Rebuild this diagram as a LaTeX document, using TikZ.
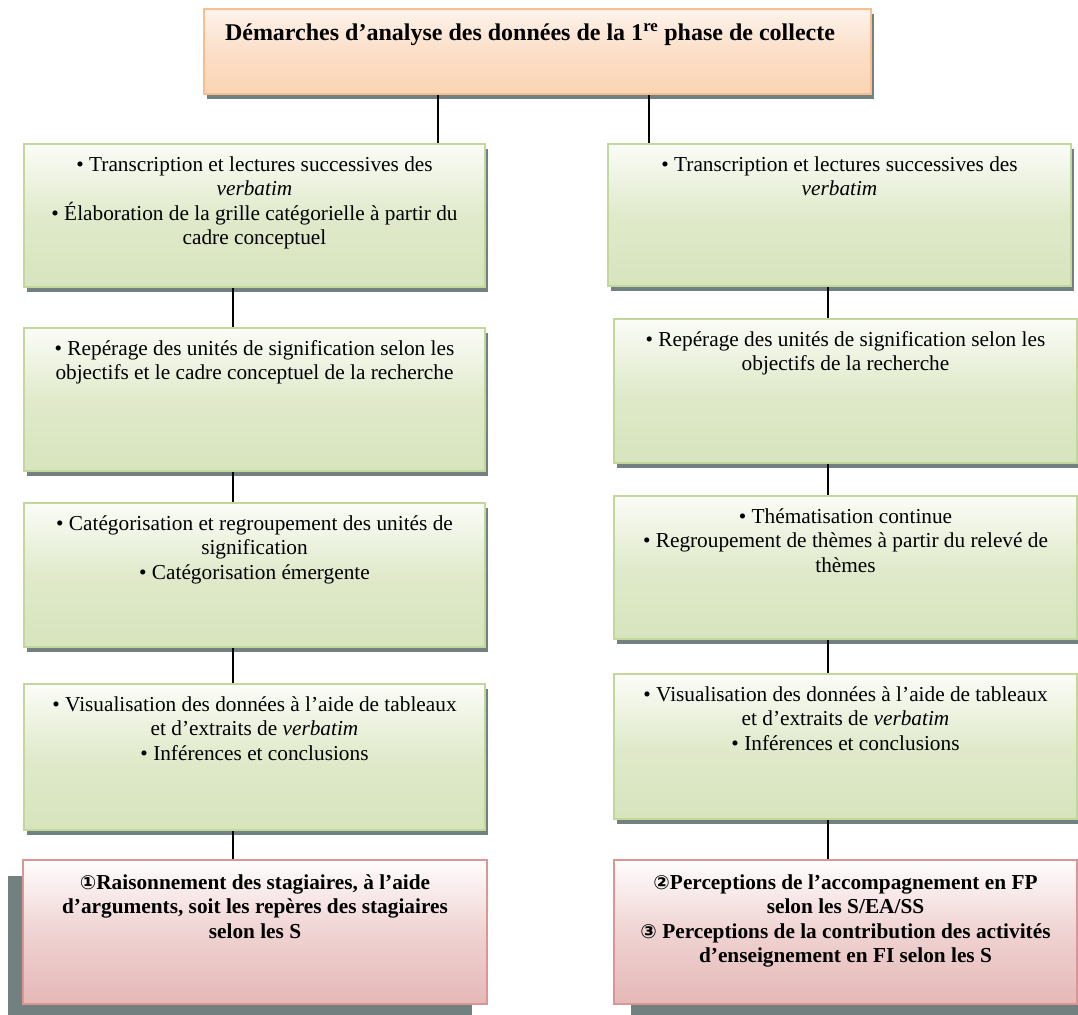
\documentclass[tikz,border=0pt]{standalone}
\usepackage{fontspec}
\setmainfont{Liberation Serif}
\newfontfamily\dejavu{DejaVu Sans}
\usetikzlibrary{shadows}
\definecolor{gBorder}{HTML}{C3D69B}
\definecolor{gBot}{HTML}{D7E4BD}
\definecolor{gMid}{HTML}{E0EACB}
\definecolor{gTop}{HTML}{FBFCF8}
\definecolor{oBorder}{HTML}{F9BE8F}
\definecolor{oBot}{HTML}{FBD4B4}
\definecolor{oMid}{HTML}{FCDFC8}
\definecolor{oTop}{HTML}{FDF3EC}
\definecolor{rBorder}{HTML}{D99694}
\definecolor{rBot}{HTML}{E5B8B7}
\definecolor{rMid}{HTML}{EFD3D2}
\definecolor{rTop}{HTML}{FFFDFD}
\definecolor{shadowgray}{HTML}{728080}
\newcommand{\circnum}[1]{{\dejavu\fontsize{19.5}{19.5}\selectfont #1}}
\begin{document}
\begin{tikzpicture}[x=1pt,y=-1pt,
  box/.style={draw, line width=2pt, inner sep=0pt, anchor=north west, rectangle},
  gbox/.style={box, draw=gBorder, top color=gTop, bottom color=gBot, middle color=gMid,
    drop shadow={shadow xshift=3pt, shadow yshift=-5pt, fill=shadowgray, opacity=1}},
  obox/.style={box, draw=oBorder, top color=oTop, bottom color=oBot, middle color=oMid,
    drop shadow={shadow xshift=3pt, shadow yshift=-5pt, fill=shadowgray, opacity=1}},
  rbox/.style={box, draw=rBorder, top color=rTop, bottom color=rBot, middle color=rMid},
  txt/.style={anchor=north, align=center, inner sep=0pt, font=\fontsize{21.3}{24.5}\selectfont},
  btxt/.style={txt, font=\fontsize{21.3}{24.5}\selectfont\bfseries},
  conn/.style={draw=black, line width=1.6pt}
]
\useasboundingbox (0,0) rectangle (1078,1014);

% title box
\node[obox, minimum width=667pt, minimum height=85pt] (T) at (203,8) {};
\node[anchor=base, inner sep=0pt, font=\fontsize{24}{28}\selectfont\bfseries] (Tt) at (530,41)
  {Démarches d’analyse des données de la 1\textsuperscript{re} phase de collecte};

% left column
\node[gbox, minimum width=461pt, minimum height=143pt] (L1) at (23,143) {};
\node[gbox, minimum width=461pt, minimum height=143pt] (L2) at (23,327) {};
\node[gbox, minimum width=461pt, minimum height=144pt] (L3) at (23,502) {};
\node[gbox, minimum width=461pt, minimum height=146pt] (L4) at (23,683) {};
\node[rbox, minimum width=464pt, minimum height=144pt,
  drop shadow={shadow xshift=-15pt, shadow yshift=-16pt, fill=shadowgray, opacity=1}] (LR) at (22,859) {};

% right column
\node[gbox, minimum width=463pt, minimum height=142pt] (R1) at (607,143) {};
\node[gbox, minimum width=463pt, minimum height=144pt] (R2) at (613,318) {};
\node[gbox, minimum width=463pt, minimum height=143pt] (R3) at (613,495) {};
\node[gbox, minimum width=463pt, minimum height=145pt] (R4) at (613,673) {};
\node[rbox, minimum width=463pt, minimum height=144pt,
  drop shadow={shadow xshift=17pt, shadow yshift=-11pt, fill=shadowgray, opacity=1}] (RR) at (613,859) {};

% texts
\node[txt] (L1t) at ([yshift=-11pt]L1.north) {\strut• Transcription et lectures successives des\\ \textit{verbatim}\\ • Élaboration de la grille catégorielle à partir du\\ cadre conceptuel};
\node[txt] (L2t) at ([yshift=-11pt]L2.north) {\strut• Repérage des unités de signification selon les\\ objectifs et le cadre conceptuel de la recherche};
\node[txt] (L3t) at ([yshift=-11pt]L3.north) {\strut• Catégorisation et regroupement des unités de\\ signification\\ • Catégorisation émergente};
\node[txt] (L4t) at ([yshift=-11pt]L4.north) {\strut• Visualisation des données à l’aide de tableaux\\ et d’extraits de \textit{verbatim}\\ • Inférences et conclusions};
\node[btxt] (LRt) at ([yshift=-13pt]LR.north) {\strut\circnum{①}Raisonnement des stagiaires, à l’aide\\ d’arguments, soit les repères des stagiaires\\ selon les S};

\node[txt] (R1t) at ([yshift=-11pt]R1.north) {\strut• Transcription et lectures successives des\\ \textit{verbatim}};
\node[txt] (R2t) at ([yshift=-11pt]R2.north) {\strut• Repérage des unités de signification selon les\\ objectifs de la recherche};
\node[txt] (R3t) at ([yshift=-11pt]R3.north) {\strut• Thématisation continue\\ • Regroupement de thèmes à partir du relevé de\\ thèmes};
\node[txt] (R4t) at ([yshift=-11pt]R4.north) {\strut• Visualisation des données à l’aide de tableaux\\ et d’extraits de \textit{verbatim}\\ • Inférences et conclusions};
\node[btxt] (RRt) at ([yshift=-13pt]RR.north) {\strut\circnum{②}Perceptions de l’accompagnement en FP\\ selon les S/EA/SS\\ \circnum{③} Perceptions de la contribution des activités\\ d’enseignement en FI selon les S};

% connector x positions
\coordinate (xTL) at (438,0);
\coordinate (xTR) at (649,0);
\coordinate (xL) at (233,0);
\coordinate (xR) at (828,0);

\draw[conn] (T.south -| xTL) -- (L1.north -| xTL);
\draw[conn] (T.south -| xTR) -- (R1.north -| xTR);
\draw[conn] (L1.south -| xL) -- (L2.north -| xL);
\draw[conn] (L2.south -| xL) -- (L3.north -| xL);
\draw[conn] (L3.south -| xL) -- (L4.north -| xL);
\draw[conn] (L4.south -| xL) -- (LR.north -| xL);
\draw[conn] (R1.south -| xR) -- (R2.north -| xR);
\draw[conn] (R2.south -| xR) -- (R3.north -| xR);
\draw[conn] (R3.south -| xR) -- (R4.north -| xR);
\draw[conn] (R4.south -| xR) -- (RR.north -| xR);
\end{tikzpicture}
\end{document}
